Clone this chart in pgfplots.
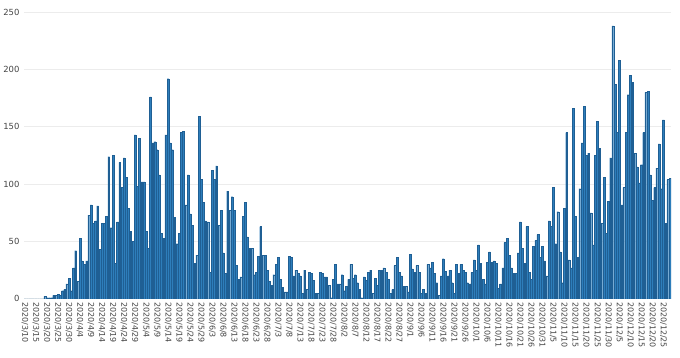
\documentclass[border=0pt]{standalone}
\usepackage{pgfplots}
\pgfplotsset{compat=1.18}
\usepackage{fontspec}
\setmainfont{DejaVu Sans}
\definecolor{barfill}{HTML}{2E7EBB}
\definecolor{baredge}{HTML}{1F5F94}
\definecolor{gridc}{HTML}{ECECEC}
\definecolor{tickc}{HTML}{444444}
\begin{document}
\begin{tikzpicture}
\begin{axis}[
  scale only axis,
  width=652pt, height=298pt,
  xmin=-0.5, xmax=293.5, ymin=0, ymax=258,
  enlargelimits=false,
  axis line style={draw=none},
  ymajorgrids, grid style={gridc, line width=0.6pt},
  major tick length=0pt,
  ytick={0,50,100,150,200,250},
  xtick={0,5,...,290},
  xticklabels={2020/3/10,2020/3/15,2020/3/20,2020/3/25,2020/3/30,2020/4/4,2020/4/9,2020/4/14,2020/4/19,2020/4/24,2020/4/29,2020/5/4,2020/5/9,2020/5/14,2020/5/19,2020/5/24,2020/5/29,2020/6/3,2020/6/8,2020/6/13,2020/6/18,2020/6/23,2020/6/28,2020/7/3,2020/7/8,2020/7/13,2020/7/18,2020/7/23,2020/7/28,2020/8/2,2020/8/7,2020/8/12,2020/8/17,2020/8/22,2020/8/27,2020/9/1,2020/9/6,2020/9/11,2020/9/16,2020/9/21,2020/9/26,2020/10/1,2020/10/6,2020/10/11,2020/10/16,2020/10/21,2020/10/26,2020/10/31,2020/11/5,2020/11/10,2020/11/15,2020/11/20,2020/11/25,2020/11/30,2020/12/5,2020/12/10,2020/12/15,2020/12/20,2020/12/25},
  xticklabel style={rotate=-90, anchor=west, font=\fontsize{8}{9}\selectfont, text=tickc, xshift=0pt, yshift=0pt},
  yticklabel style={font=\fontsize{8.5}{10}\selectfont, text=tickc, anchor=east, xshift=-1pt},
  /pgf/number format/assume math mode=true,
  axis on top=false,
]
\addplot[ybar, bar width=0.82, fill=barfill, draw=baredge, line width=0.2pt] coordinates {
(0,0)(1,0)(2,0)(3,0)(4,0)(5,0)(6,0)(7,0)(8,0)
(9,2)(10,1)(11,1)(12,1)
(13,3)(14,3)(15,4)(16,3)
(17,7)(18,8)(19,13)(20,18)(21,7)
(22,27)(23,42)(24,15)(25,53)(26,33)(27,30)(28,33)(29,73)(30,82)(31,66)(32,68)(33,81)(34,43)(35,66)(36,66)(37,72)(38,124)(39,62)(40,125)(41,31)(42,67)(43,119)(44,97)
(45,123)(46,106)(47,79)(48,59)(49,50)(50,143)(51,98)(52,140)(53,102)(54,102)(55,59)(56,44)(57,176)(58,136)(59,137)(60,130)(61,108)(62,57)(63,53)(64,143)(65,192)(66,136)(67,130)(68,71)(69,48)
(70,57)(71,145)(72,146)(73,82)(74,108)(75,74)(76,64)(77,31)(78,38)(79,159)(80,104)(81,84)(82,68)(83,67)(84,23)(85,112)(86,104)(87,116)(88,64)(89,77)(90,40)(91,22)(92,94)(93,77)(94,89)
(95,77)(96,29)(97,17)(98,19)(99,72)(100,84)(101,54)(102,44)(103,44)(104,21)(105,23)(106,37)(107,63)(108,38)(109,38)(110,25)(111,15)(112,12)(113,21)(114,30)(115,36)(116,17)(117,10)(118,6)(119,6)
(120,37)(121,36)(122,20)(123,25)(124,22)(125,20)(126,5)(127,25)(128,8)(129,23)(130,22)(131,16)(132,5)(133,5)(134,23)(135,22)(136,19)(137,19)(138,12)(139,1)(140,17)(141,30)(142,13)(143,13)(144,21)(145,7)
(146,11)(147,17)(148,30)(149,18)(150,21)(151,14)(152,8)(153,1)(154,19)(155,16)(156,23)(157,25)(158,5)(159,18)(160,12)(161,25)(162,25)(163,27)(164,23)(165,17)(166,5)(167,8)
(168,29)(169,36)(170,23)(171,20)(172,11)(173,11)(174,6)(175,39)(176,26)(177,23)(178,29)(179,23)(180,5)(181,8)(182,5)(183,30)(184,27)(185,32)(186,22)(187,14)(188,3)(189,20)(190,35)(191,24)(192,20)
(193,25)(194,14)(195,5)(196,30)(197,22)(198,30)(199,25)(200,23)(201,14)(202,13)(203,23)(204,34)(205,25)(206,47)(207,31)(208,17)(209,13)(210,32)(211,41)(212,32)(213,33)(214,31)(215,9)(216,13)(217,27)
(218,49)(219,53)(220,38)(221,27)(222,22)(223,22)(224,40)(225,67)(226,44)(227,31)(228,63)(229,23)(230,17)(231,46)(232,51)(233,56)(234,36)(235,46)(236,33)(237,20)(238,68)(239,63)(240,97)(241,48)(242,76)(243,41)(244,14)(245,79)
(246,145)(247,34)(248,27)(249,166)(250,72)(251,36)(252,96)(253,136)(254,168)(255,125)(256,127)(257,75)(258,47)(259,125)(260,155)(261,131)(262,66)(263,106)(264,57)(265,85)(266,123)(267,238)(268,187)(269,145)(270,208)
(271,82)(272,97)(273,145)(274,178)(275,195)(276,189)(277,127)(278,115)(279,101)(280,117)(281,145)(282,180)(283,181)(284,108)(285,86)(286,97)(287,114)(288,135)(289,96)(290,156)(291,66)(292,104)(293,105)
};
\end{axis}
\path[use as bounding box] (-19pt,-59pt) rectangle (661pt,301pt);
\end{tikzpicture}
\end{document}
